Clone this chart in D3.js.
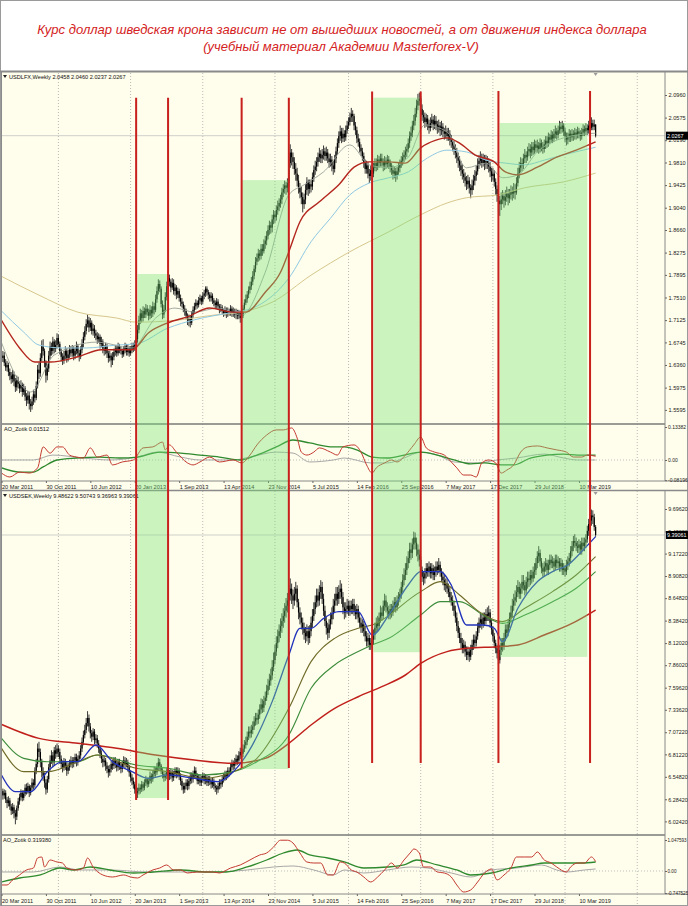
<!DOCTYPE html>
<html><head><meta charset="utf-8">
<script src="https://cdn.jsdelivr.net/npm/d3@7"></script>
<style>body{margin:0;background:#fff}svg{display:block}text{font-family:"Liberation Sans",Arial,sans-serif}</style>
</head><body><svg id="c" width="688" height="906"></svg>
<script>
// ---------------- DATA ----------------
const titleLines = ["Курс доллар шведская крона зависит не от вышедших новостей, а от движения индекса доллара","(учебный материал Академии Masterforex-V)"];
const lfxName = "USDLFX,Weekly", sekName = "USDSEK,Weekly", oscName = "AO_Zotik";
// weekly bars, week 0 = 20 Mar 2011
const lfxFirstOpen = 1.642, sekFirstOpen = 6.40;
const lfxClose = [
1.648,1.652,1.640,1.632,1.636,1.624,1.618,1.612,1.620,1.608,
1.598,1.610,1.604,1.596,1.602,1.590,1.596,1.582,1.576,1.584,
1.570,1.566,1.574,1.586,1.580,1.600,1.628,1.622,1.648,1.668,
1.660,1.640,1.618,1.630,1.652,1.668,1.660,1.676,1.664,1.670,
1.682,1.672,1.660,1.650,1.644,1.652,1.660,1.648,1.654,1.662,
1.656,1.664,1.652,1.660,1.668,1.656,1.650,1.662,1.672,1.684,
1.694,1.706,1.712,1.700,1.708,1.694,1.698,1.690,1.686,1.680,
1.684,1.672,1.676,1.664,1.660,1.668,1.656,1.648,1.652,1.644,
1.650,1.658,1.664,1.656,1.668,1.662,1.660,1.654,1.662,1.668,
1.658,1.664,1.656,1.662,1.668,1.664,1.672,1.680,1.696,1.712,
1.724,1.716,1.728,1.722,1.732,1.726,1.720,1.730,1.724,1.736,
1.730,1.748,1.762,1.774,1.766,1.740,1.722,1.730,1.752,1.770,
1.784,1.778,1.768,1.776,1.762,1.768,1.756,1.762,1.750,1.744,
1.740,1.732,1.728,1.720,1.712,1.716,1.708,1.722,1.730,1.736,
1.742,1.738,1.746,1.750,1.744,1.754,1.758,1.766,1.760,1.756,
1.750,1.754,1.746,1.742,1.738,1.744,1.736,1.730,1.734,1.728,
1.724,1.730,1.722,1.728,1.726,1.732,1.724,1.728,1.722,1.726,
1.720,1.724,1.716,1.720,1.732,1.742,1.748,1.756,1.764,1.770,
1.778,1.788,1.800,1.812,1.818,1.826,1.822,1.834,1.830,1.842,
1.848,1.856,1.866,1.874,1.870,1.884,1.892,1.888,1.900,1.906,
1.912,1.918,1.930,1.936,1.942,1.938,1.946,1.980,1.998,1.990,
1.982,1.970,1.962,1.950,1.938,1.930,1.922,1.910,1.918,1.934,
1.948,1.936,1.944,1.940,1.956,1.968,1.974,1.982,1.990,1.996,
1.988,1.994,2.000,1.992,1.998,1.988,1.982,1.986,1.976,1.970,
1.988,2.000,2.014,2.026,2.034,2.022,2.030,2.024,2.036,2.044,
2.050,2.058,2.064,2.060,2.044,2.036,2.022,2.016,2.006,2.000,
1.992,1.980,1.970,1.976,1.962,1.958,1.968,1.962,1.972,1.980,
1.974,1.986,1.980,1.988,1.982,1.976,1.984,1.978,1.986,1.980,
1.974,1.968,1.962,1.966,1.958,1.966,1.972,1.978,1.984,1.990,
1.994,2.000,2.004,2.014,2.026,2.032,2.044,2.052,2.064,2.078,
2.086,2.090,2.072,2.062,2.058,2.050,2.056,2.046,2.040,2.048,
2.054,2.046,2.052,2.046,2.040,2.044,2.036,2.042,2.034,2.030,
2.034,2.026,2.030,2.020,2.016,2.010,2.004,1.998,1.990,1.984,
1.976,1.968,1.962,1.956,1.950,1.944,1.950,1.938,1.934,1.942,
1.950,1.958,1.966,1.978,1.984,1.990,1.980,1.986,1.978,1.984,
1.980,1.974,1.966,1.958,1.962,1.948,1.936,1.924,1.916,1.910,
1.918,1.924,1.916,1.922,1.928,1.920,1.926,1.932,1.928,1.934,
1.930,1.946,1.962,1.972,1.980,1.976,1.988,1.994,1.990,2.000,
2.004,1.998,2.008,2.002,2.012,2.006,2.010,2.004,2.014,2.008,
2.004,2.012,2.018,2.014,2.024,2.020,2.028,2.022,2.030,2.034,
2.028,2.036,2.042,2.038,2.044,2.034,2.026,2.020,2.024,2.030,
2.024,2.030,2.026,2.032,2.028,2.034,2.030,2.026,2.032,2.038,
2.034,2.040,2.036,2.044,2.040,2.048,2.042,2.0458,2.0267];
const lfxHigh = [
1.656,1.660,1.658,1.646,1.643,1.640,1.630,1.624,1.628,1.625,
1.614,1.618,1.616,1.608,1.610,1.606,1.604,1.600,1.588,1.592,
1.590,1.578,1.582,1.594,1.592,1.608,1.636,1.640,1.656,1.678,
1.680,1.664,1.644,1.638,1.660,1.676,1.674,1.684,1.680,1.678,
1.690,1.688,1.676,1.664,1.656,1.660,1.668,1.664,1.662,1.670,
1.668,1.670,1.668,1.666,1.676,1.672,1.662,1.668,1.680,1.692,
1.702,1.714,1.722,1.718,1.716,1.712,1.706,1.704,1.696,1.692,
1.690,1.688,1.684,1.680,1.670,1.674,1.672,1.660,1.660,1.656,
1.658,1.664,1.670,1.668,1.674,1.672,1.668,1.664,1.668,1.674,
1.672,1.670,1.668,1.668,1.674,1.674,1.678,1.686,1.704,1.720,
1.732,1.730,1.736,1.734,1.740,1.738,1.732,1.738,1.736,1.744,
1.742,1.756,1.770,1.782,1.780,1.770,1.746,1.738,1.760,1.778,
1.796,1.790,1.782,1.784,1.782,1.774,1.772,1.768,1.766,1.756,
1.750,1.744,1.738,1.732,1.724,1.722,1.720,1.728,1.736,1.742,
1.748,1.746,1.752,1.756,1.754,1.760,1.764,1.770,1.770,1.764,
1.760,1.760,1.758,1.750,1.746,1.750,1.748,1.740,1.740,1.738,
1.732,1.736,1.734,1.734,1.732,1.738,1.736,1.734,1.732,1.732,
1.730,1.730,1.728,1.726,1.738,1.748,1.756,1.762,1.770,1.778,
1.786,1.796,1.806,1.820,1.826,1.834,1.832,1.842,1.842,1.850,
1.856,1.864,1.874,1.882,1.880,1.892,1.900,1.898,1.908,1.916,
1.920,1.926,1.938,1.944,1.950,1.948,1.954,1.990,2.012,2.004,
1.998,1.990,1.980,1.972,1.960,1.946,1.940,1.930,1.928,1.944,
1.956,1.952,1.952,1.952,1.964,1.976,1.984,1.990,1.998,2.006,
2.002,2.004,2.010,2.006,2.008,2.004,1.996,1.996,1.992,1.984,
1.994,2.008,2.022,2.034,2.044,2.040,2.040,2.036,2.044,2.052,
2.058,2.066,2.074,2.070,2.064,2.050,2.042,2.030,2.022,2.012,
2.006,1.998,1.986,1.984,1.982,1.970,1.976,1.974,1.980,1.988,
1.988,1.994,1.992,1.996,1.996,1.988,1.992,1.990,1.994,1.992,
1.986,1.980,1.976,1.974,1.972,1.974,1.980,1.986,1.992,1.998,
2.002,2.008,2.012,2.022,2.034,2.042,2.052,2.062,2.074,2.088,
2.098,2.100,2.094,2.080,2.070,2.066,2.064,2.062,2.054,2.058,
2.064,2.060,2.062,2.060,2.052,2.054,2.050,2.052,2.048,2.040,
2.044,2.040,2.040,2.036,2.028,2.022,2.018,2.012,2.006,1.998,
1.992,1.984,1.978,1.970,1.964,1.958,1.960,1.956,1.944,1.952,
1.960,1.968,1.976,1.988,1.994,2.000,1.996,1.996,1.994,1.994,
1.992,1.988,1.982,1.972,1.972,1.968,1.954,1.942,1.930,1.924,
1.930,1.934,1.930,1.934,1.940,1.936,1.936,1.942,1.940,1.946,
1.944,1.956,1.972,1.982,1.990,1.988,1.996,2.004,2.000,2.008,
2.014,2.012,2.016,2.016,2.020,2.018,2.020,2.016,2.022,2.020,
2.016,2.020,2.026,2.026,2.032,2.030,2.036,2.034,2.038,2.044,
2.040,2.044,2.052,2.050,2.052,2.048,2.040,2.032,2.032,2.038,
2.036,2.038,2.036,2.040,2.038,2.042,2.040,2.036,2.040,2.046,
2.044,2.048,2.046,2.052,2.050,2.058,2.054,2.054,2.0460];
const lfxLow = [
1.636,1.641,1.634,1.626,1.625,1.617,1.610,1.604,1.606,1.600,
1.590,1.592,1.596,1.588,1.590,1.582,1.585,1.575,1.566,1.570,
1.560,1.556,1.560,1.568,1.572,1.576,1.596,1.612,1.616,1.642,
1.652,1.632,1.606,1.610,1.624,1.646,1.652,1.654,1.656,1.658,
1.664,1.666,1.654,1.642,1.636,1.638,1.646,1.640,1.642,1.648,
1.650,1.650,1.644,1.646,1.654,1.650,1.642,1.646,1.656,1.666,
1.678,1.688,1.700,1.692,1.694,1.688,1.686,1.682,1.678,1.672,
1.674,1.664,1.666,1.656,1.652,1.654,1.648,1.640,1.642,1.632,
1.636,1.644,1.652,1.650,1.652,1.656,1.654,1.648,1.650,1.656,
1.652,1.652,1.650,1.652,1.656,1.658,1.660,1.666,1.674,1.690,
1.706,1.708,1.710,1.716,1.716,1.720,1.712,1.714,1.716,1.718,
1.722,1.726,1.742,1.756,1.760,1.734,1.714,1.716,1.726,1.746,
1.764,1.770,1.760,1.764,1.756,1.754,1.748,1.750,1.744,1.736,
1.734,1.726,1.720,1.714,1.704,1.702,1.700,1.704,1.716,1.724,
1.730,1.732,1.734,1.740,1.738,1.740,1.748,1.752,1.754,1.748,
1.744,1.744,1.740,1.736,1.732,1.732,1.730,1.724,1.726,1.722,
1.718,1.720,1.716,1.718,1.720,1.720,1.718,1.718,1.716,1.714,
1.714,1.714,1.708,1.710,1.716,1.726,1.738,1.742,1.750,1.758,
1.764,1.772,1.782,1.794,1.806,1.812,1.814,1.816,1.822,1.826,
1.834,1.840,1.850,1.858,1.860,1.862,1.876,1.878,1.882,1.892,
1.898,1.904,1.910,1.922,1.928,1.926,1.930,1.940,1.972,1.976,
1.970,1.960,1.950,1.940,1.928,1.920,1.910,1.896,1.902,1.910,
1.926,1.924,1.928,1.930,1.934,1.948,1.960,1.966,1.974,1.982,
1.980,1.980,1.986,1.984,1.984,1.980,1.972,1.974,1.966,1.960,
1.964,1.980,1.994,2.006,2.018,2.014,2.016,2.016,2.018,2.030,
2.038,2.044,2.050,2.050,2.036,2.028,2.014,2.008,1.998,1.992,
1.984,1.972,1.962,1.962,1.954,1.946,1.950,1.932,1.956,1.966,
1.966,1.968,1.972,1.974,1.974,1.966,1.968,1.970,1.972,1.970,
1.964,1.960,1.952,1.954,1.948,1.952,1.960,1.964,1.972,1.976,
1.982,1.986,1.990,1.998,2.006,2.018,2.024,2.036,2.044,2.058,
2.070,2.078,2.060,2.052,2.048,2.040,2.042,2.036,2.030,2.034,
2.040,2.036,2.038,2.036,2.030,2.032,2.026,2.028,2.024,2.020,
2.022,2.018,2.018,2.010,2.006,2.000,1.994,1.988,1.980,1.972,
1.966,1.958,1.952,1.946,1.940,1.934,1.936,1.928,1.920,1.926,
1.934,1.942,1.950,1.960,1.970,1.976,1.972,1.974,1.968,1.970,
1.970,1.964,1.956,1.948,1.950,1.940,1.926,1.914,1.896,1.890,
1.900,1.910,1.904,1.908,1.914,1.908,1.912,1.918,1.916,1.920,
1.918,1.926,1.940,1.954,1.964,1.966,1.970,1.980,1.980,1.984,
1.992,1.988,1.992,1.994,1.996,1.998,1.998,1.996,1.998,2.000,
1.996,1.998,2.004,2.006,2.008,2.012,2.014,2.014,2.016,2.022,
2.020,2.022,2.030,2.030,2.032,2.026,2.016,2.010,2.012,2.016,
2.016,2.018,2.018,2.020,2.020,2.022,2.022,2.018,2.020,2.026,
2.026,2.028,2.028,2.030,2.032,2.036,2.036,2.036,2.0237];
const sekClose = [
6.38,6.33,6.36,6.28,6.24,6.27,6.20,6.15,6.19,6.12,
6.08,6.18,6.26,6.31,6.36,6.30,6.35,6.42,6.38,6.44,
6.36,6.42,6.48,6.45,6.62,6.70,6.88,6.84,6.72,6.60,
6.56,6.48,6.40,6.52,6.66,6.74,6.80,6.72,6.86,6.82,
6.88,6.84,6.76,6.70,6.66,6.72,6.68,6.62,6.66,6.70,
6.74,6.70,6.74,6.78,6.72,6.76,6.80,6.88,6.96,7.04,
7.10,7.18,7.24,7.14,7.06,7.02,7.08,6.98,7.00,6.94,
6.88,6.82,6.76,6.72,6.74,6.68,6.64,6.60,6.64,6.70,
6.68,6.74,6.70,6.66,6.72,6.68,6.64,6.70,6.74,6.70,
6.72,6.66,6.60,6.54,6.50,6.46,6.40,6.36,6.38,6.42,
6.40,6.46,6.42,6.48,6.52,6.46,6.50,6.56,6.52,6.58,
6.62,6.60,6.66,6.72,6.68,6.62,6.58,6.54,6.56,6.62,
6.60,6.56,6.60,6.54,6.58,6.62,6.58,6.62,6.56,6.50,
6.44,6.40,6.44,6.48,6.44,6.50,6.56,6.52,6.58,6.62,
6.56,6.50,6.54,6.48,6.52,6.56,6.50,6.54,6.48,6.52,
6.50,6.46,6.50,6.44,6.42,6.40,6.44,6.48,6.46,6.52,
6.54,6.58,6.56,6.62,6.60,6.66,6.70,6.68,6.72,6.76,
6.74,6.80,6.84,6.82,6.88,6.92,6.96,7.02,7.08,7.06,
7.10,7.14,7.20,7.24,7.22,7.28,7.34,7.40,7.36,7.44,
7.48,7.56,7.62,7.68,7.74,7.84,7.92,8.02,8.12,8.20,
8.26,8.32,8.38,8.44,8.50,8.56,8.62,8.70,8.76,8.68,
8.62,8.70,8.76,8.60,8.48,8.42,8.36,8.30,8.24,8.20,
8.26,8.18,8.26,8.36,8.44,8.52,8.60,8.68,8.62,8.72,
8.78,8.64,8.50,8.38,8.30,8.24,8.34,8.40,8.46,8.56,
8.62,8.70,8.64,8.72,8.76,8.66,8.54,8.48,8.52,8.56,
8.50,8.56,8.52,8.58,8.50,8.46,8.52,8.42,8.36,8.30,
8.34,8.26,8.20,8.14,8.18,8.10,8.12,8.16,8.22,8.30,
8.36,8.32,8.42,8.48,8.44,8.56,8.62,8.54,8.50,8.46,
8.52,8.48,8.56,8.60,8.54,8.62,8.66,8.70,8.78,8.86,
8.92,8.98,9.06,9.12,9.22,9.18,9.28,9.36,9.30,9.22,
9.16,9.10,8.98,8.90,8.88,8.94,9.00,8.96,9.02,8.94,
9.00,8.92,8.96,9.02,8.98,9.04,8.96,8.90,8.86,8.80,
8.82,8.76,8.72,8.66,8.62,8.56,8.50,8.42,8.32,8.24,
8.18,8.12,8.06,8.10,8.02,7.98,8.02,7.96,8.04,8.10,
8.16,8.12,8.20,8.30,8.36,8.40,8.34,8.42,8.38,8.46,
8.44,8.48,8.36,8.28,8.20,8.12,8.06,8.00,7.92,8.04,
8.12,8.08,8.18,8.28,8.24,8.34,8.42,8.48,8.56,8.62,
8.66,8.72,8.78,8.70,8.76,8.84,8.80,8.74,8.84,8.88,
8.86,8.92,8.88,8.96,8.98,9.06,9.14,9.18,9.08,9.00,
8.96,9.02,9.06,8.98,9.04,9.10,9.06,9.08,9.02,9.10,
9.06,9.08,9.02,9.06,8.98,9.00,8.96,9.04,9.08,9.12,
9.20,9.26,9.32,9.30,9.26,9.24,9.28,9.22,9.30,9.26,
9.30,9.34,9.44,9.52,9.56,9.62,9.60,9.48622,9.39061];
const sekHigh = [
6.44,6.41,6.40,6.39,6.31,6.32,6.30,6.23,6.24,6.22,
6.16,6.21,6.30,6.35,6.40,6.39,6.39,6.46,6.47,6.48,
6.46,6.45,6.53,6.52,6.66,6.76,6.94,6.96,6.88,6.76,
6.66,6.60,6.52,6.56,6.70,6.80,6.86,6.84,6.90,6.92,
6.94,6.92,6.88,6.80,6.74,6.77,6.76,6.72,6.71,6.75,
6.79,6.78,6.78,6.82,6.82,6.80,6.85,6.92,7.01,7.09,
7.16,7.24,7.32,7.28,7.18,7.10,7.12,7.11,7.05,7.04,
6.98,6.92,6.86,6.80,6.79,6.77,6.72,6.68,6.69,6.74,
6.75,6.78,6.78,6.74,6.76,6.76,6.72,6.74,6.79,6.78,
6.77,6.75,6.69,6.63,6.58,6.54,6.49,6.43,6.42,6.47,
6.46,6.50,6.49,6.52,6.56,6.54,6.54,6.61,6.59,6.62,
6.67,6.66,6.71,6.77,6.76,6.70,6.65,6.61,6.60,6.66,
6.67,6.63,6.64,6.63,6.62,6.66,6.66,6.66,6.65,6.59,
6.53,6.48,6.48,6.52,6.52,6.54,6.60,6.60,6.62,6.67,
6.66,6.59,6.58,6.57,6.56,6.60,6.59,6.58,6.57,6.56,
6.56,6.53,6.54,6.53,6.47,6.45,6.48,6.52,6.52,6.56,
6.59,6.62,6.62,6.66,6.66,6.70,6.75,6.74,6.77,6.81,
6.80,6.85,6.89,6.88,6.93,6.98,7.02,7.08,7.14,7.14,
7.16,7.20,7.26,7.30,7.30,7.34,7.40,7.47,7.46,7.50,
7.55,7.63,7.70,7.76,7.82,7.92,8.01,8.10,8.20,8.28,
8.34,8.41,8.47,8.53,8.59,8.65,8.71,8.80,8.88,8.82,
8.75,8.78,8.84,8.80,8.64,8.54,8.48,8.42,8.36,8.31,
8.34,8.32,8.33,8.43,8.52,8.60,8.68,8.76,8.76,8.80,
8.86,8.84,8.70,8.56,8.44,8.36,8.40,8.48,8.54,8.64,
8.70,8.78,8.78,8.80,8.86,8.82,8.72,8.60,8.60,8.64,
8.62,8.62,8.62,8.64,8.64,8.56,8.58,8.56,8.48,8.42,
8.40,8.38,8.32,8.26,8.24,8.22,8.18,8.22,8.28,8.36,
8.42,8.44,8.48,8.56,8.54,8.62,8.70,8.68,8.60,8.56,
8.58,8.58,8.62,8.66,8.66,8.68,8.72,8.76,8.84,8.93,
9.00,9.06,9.14,9.20,9.30,9.30,9.35,9.43,9.42,9.36,
9.28,9.22,9.14,9.02,8.96,9.00,9.06,9.06,9.08,9.06,
9.06,9.04,9.02,9.08,9.08,9.12,9.08,9.00,8.96,8.92,
8.88,8.88,8.82,8.78,8.72,8.68,8.62,8.56,8.48,8.38,
8.30,8.24,8.18,8.16,8.14,8.08,8.08,8.06,8.10,8.16,
8.22,8.22,8.26,8.36,8.42,8.48,8.46,8.48,8.48,8.52,
8.54,8.56,8.52,8.40,8.32,8.24,8.16,8.10,8.04,8.10,
8.18,8.18,8.24,8.34,8.34,8.40,8.48,8.56,8.64,8.70,
8.74,8.80,8.86,8.84,8.82,8.92,8.92,8.86,8.90,8.96,
8.96,8.98,8.98,9.02,9.06,9.12,9.20,9.26,9.22,9.12,
9.06,9.08,9.12,9.10,9.10,9.16,9.16,9.14,9.12,9.16,
9.16,9.14,9.12,9.12,9.10,9.06,9.04,9.10,9.14,9.18,
9.26,9.32,9.38,9.40,9.36,9.32,9.34,9.32,9.36,9.36,
9.36,9.40,9.50,9.58,9.64,9.69,9.68,9.64,9.50743];
const sekLow = [
6.33,6.28,6.29,6.24,6.18,6.20,6.16,6.10,6.11,6.06,
5.99,6.04,6.15,6.22,6.27,6.26,6.27,6.32,6.34,6.35,
6.31,6.33,6.39,6.40,6.42,6.58,6.66,6.78,6.66,6.54,
6.50,6.42,6.34,6.36,6.48,6.62,6.70,6.66,6.68,6.76,
6.78,6.78,6.70,6.64,6.60,6.62,6.63,6.56,6.58,6.62,
6.66,6.65,6.66,6.70,6.67,6.68,6.72,6.76,6.84,6.92,
7.00,7.06,7.14,7.08,7.00,6.96,6.98,6.93,6.94,6.89,
6.83,6.77,6.71,6.66,6.67,6.62,6.59,6.54,6.56,6.60,
6.63,6.64,6.65,6.61,6.62,6.63,6.59,6.60,6.66,6.65,
6.66,6.61,6.55,6.49,6.45,6.41,6.35,6.29,6.30,6.34,
6.35,6.37,6.38,6.39,6.44,6.42,6.43,6.47,6.47,6.49,
6.55,6.55,6.57,6.62,6.63,6.58,6.53,6.49,6.50,6.52,
6.55,6.51,6.52,6.49,6.50,6.54,6.53,6.54,6.51,6.45,
6.39,6.35,6.36,6.40,6.39,6.40,6.46,6.47,6.48,6.54,
6.52,6.46,6.46,6.44,6.44,6.48,6.46,6.46,6.44,6.44,
6.45,6.41,6.42,6.40,6.37,6.34,6.36,6.40,6.41,6.43,
6.48,6.50,6.51,6.53,6.55,6.57,6.62,6.63,6.64,6.68,
6.69,6.70,6.76,6.77,6.78,6.84,6.88,6.92,6.98,7.00,
7.01,7.05,7.10,7.15,7.16,7.17,7.23,7.29,7.30,7.31,
7.39,7.44,7.51,7.57,7.62,7.69,7.79,7.87,7.97,8.06,
8.13,8.18,8.24,8.30,8.36,8.42,8.48,8.55,8.62,8.58,
8.52,8.56,8.62,8.54,8.40,8.34,8.28,8.22,8.16,8.12,
8.14,8.10,8.12,8.20,8.30,8.38,8.46,8.54,8.55,8.56,
8.64,8.58,8.44,8.32,8.22,8.16,8.18,8.28,8.34,8.40,
8.48,8.56,8.56,8.58,8.64,8.58,8.46,8.40,8.42,8.46,
8.44,8.44,8.46,8.46,8.44,8.40,8.40,8.36,8.30,8.24,
8.24,8.20,8.14,8.08,8.08,8.04,8.04,8.06,8.10,8.16,
8.24,8.26,8.28,8.36,8.38,8.40,8.50,8.48,8.44,8.40,
8.40,8.42,8.44,8.50,8.48,8.50,8.56,8.60,8.64,8.72,
8.80,8.86,8.92,9.00,9.06,9.10,9.12,9.22,9.22,9.14,
9.08,9.02,8.92,8.84,8.80,8.82,8.88,8.90,8.90,8.88,
8.88,8.86,8.86,8.90,8.92,8.94,8.90,8.84,8.80,8.74,
8.72,8.70,8.66,8.60,8.56,8.50,8.44,8.36,8.26,8.18,
8.12,8.06,8.00,8.00,7.96,7.92,7.92,7.90,7.92,7.98,
8.04,8.06,8.08,8.16,8.24,8.30,8.28,8.30,8.32,8.34,
8.38,8.38,8.30,8.22,8.14,8.06,8.00,7.94,7.86,7.88,
7.98,8.02,8.04,8.14,8.18,8.20,8.30,8.36,8.42,8.50,
8.56,8.60,8.66,8.64,8.64,8.70,8.74,8.68,8.70,8.76,
8.78,8.80,8.82,8.84,8.88,8.92,9.00,9.06,9.02,8.94,
8.90,8.90,8.96,8.92,8.92,8.98,9.00,9.00,8.96,8.98,
9.00,9.00,8.96,8.96,8.92,8.92,8.90,8.92,8.98,9.02,
9.06,9.14,9.20,9.24,9.20,9.18,9.18,9.16,9.16,9.20,
9.20,9.24,9.30,9.38,9.46,9.50,9.52,9.44,9.36963];

// moving averages: [week, value]
const lfxMaRed = [[0,1.712],[13,1.665],[24,1.641],[35,1.641],[55,1.650],[72,1.662],[94,1.662],[106,1.691],[120,1.708],[134,1.718],[150,1.733],[167,1.726],[176,1.726],[190,1.760],[201,1.794],[207,1.829],[215,1.880],[229,1.914],[243,1.943],[254,1.973],[265,1.982],[279,1.982],[291,1.980],[302,2.006],[313,2.019],[321,2.023],[330,2.014],[341,1.994],[355,1.982],[363,1.965],[372,1.960],[386,1.973],[400,1.990],[414,2.002],[428,2.016]];
const lfxMaBlue = [[0,1.728],[16,1.692],[27,1.670],[44,1.665],[61,1.665],[83,1.670],[97,1.672],[120,1.699],[139,1.713],[167,1.726],[181,1.733],[207,1.784],[223,1.846],[237,1.886],[251,1.926],[265,1.946],[279,1.955],[293,1.965],[307,1.989],[321,2.002],[335,1.999],[349,1.985],[363,1.980],[377,1.977],[391,1.985],[405,1.994],[428,2.007]];
const lfxMaKhaki = [[0,1.787],[27,1.755],[55,1.726],[83,1.716],[97,1.709],[125,1.712],[153,1.721],[173,1.726],[195,1.743],[223,1.789],[251,1.829],[279,1.863],[302,1.892],[321,1.912],[335,1.921],[358,1.926],[377,1.938],[405,1.948],[428,1.963]];
const lfxMaGray = [[0,1.674],[21,1.590],[38,1.653],[69,1.675],[94,1.665],[111,1.716],[125,1.733],[139,1.726],[156,1.733],[173,1.721],[190,1.794],[207,1.926],[218,1.943],[232,1.965],[251,2.011],[265,1.977],[279,1.972],[293,1.990],[305,2.045],[321,2.033],[335,1.972],[349,1.980],[361,1.955],[372,1.960],[386,1.999],[405,2.023],[428,2.031]];
const sekMaBlue = [[0,6.57],[10,6.374],[21,6.374],[33,6.609],[44,6.726],[55,6.726],[68,6.922],[80,6.726],[94,6.609],[106,6.53],[120,6.57],[139,6.53],[156,6.491],[167,6.609],[178,6.844],[195,7.432],[207,7.98],[215,8.294],[223,8.294],[232,8.411],[243,8.49],[257,8.49],[267,8.215],[279,8.45],[293,8.803],[302,8.96],[316,8.96],[324,8.803],[335,8.333],[347,8.333],[355,8.294],[361,8.137],[372,8.529],[386,8.842],[397,8.96],[408,9.038],[419,9.214],[428,9.371]];
const sekMaOlive = [[0,6.883],[16,6.609],[33,6.609],[55,6.726],[69,6.805],[97,6.648],[120,6.609],[145,6.53],[167,6.609],[184,6.765],[207,7.353],[223,7.902],[240,8.176],[257,8.294],[267,8.333],[302,8.725],[316,8.842],[330,8.686],[344,8.49],[361,8.372],[377,8.529],[397,8.725],[414,8.92],[428,9.136]];
const sekMaGreen = [[0,7.0],[16,6.765],[33,6.726],[55,6.726],[69,6.805],[97,6.687],[120,6.648],[145,6.57],[167,6.609],[184,6.726],[207,7.04],[223,7.589],[240,7.863],[257,8.02],[267,8.098],[279,8.176],[302,8.45],[316,8.607],[330,8.607],[347,8.45],[361,8.352],[377,8.45],[397,8.607],[414,8.764],[428,8.96]];
const sekMaRed = [[0,7.165],[27,7.0],[55,6.942],[83,6.883],[111,6.805],[139,6.746],[167,6.707],[190,6.765],[207,6.942],[223,7.157],[240,7.353],[257,7.49],[274,7.608],[291,7.745],[302,7.882],[321,8.02],[335,8.059],[358,8.078],[372,8.098],[391,8.215],[411,8.352],[428,8.509]];

// oscillator lines: [week, value]
const lfxOscRed = [[0,-0.053],[6,-0.069],[13,-0.049],[20,-0.053],[26,-0.032],[30,0.053],[35,0.028],[40,0.053],[44,0.053],[49,0.020],[54,0.012],[59,0.008],[64,0.049],[69,0.012],[76,0.020],[80,-0.020],[87,-0.008],[95,0],[102,0.049],[109,0.053],[116,0.073],[118,0.041],[121,0.061],[126,0.032],[134,-0.012],[138,-0.020],[143,-0.008],[150,0.012],[157,-0.008],[167,0],[173,-0.012],[179,0.020],[184,0.061],[191,0.101],[198,0.122],[203,0.122],[209,0.130],[213,0.089],[216,0.032],[220,0.020],[225,0.032],[229,0.049],[237,0.032],[242,0.020],[246,0.053],[254,0.061],[259,0.032],[263,-0.020],[267,-0.053],[270,-0.032],[276,-0.012],[281,0],[285,-0.008],[291,0.020],[297,0.061],[302,0.093],[306,0.049],[312,0.032],[319,0.020],[324,-0.008],[328,-0.032],[333,-0.061],[338,-0.061],[342,-0.069],[346,-0.012],[351,0],[356,-0.012],[360,-0.053],[364,-0.041],[369,-0.020],[374,0.032],[379,0.053],[386,0.057],[393,0.049],[400,0.041],[407,0.032],[412,0.012],[418,0.012],[422,0.020],[428,0.01512]];
const lfxOscGreen = [[0,-0.032],[13,-0.049],[23,-0.049],[30,-0.028],[40,0],[54,0.008],[71,0.012],[85,0.008],[98,0.012],[114,0.032],[129,0.028],[143,0.020],[157,0.012],[172,0],[184,0.020],[198,0.053],[210,0.081],[222,0.069],[239,0.053],[247,0.053],[256,0.041],[267,0.012],[278,0.008],[290,0.020],[302,0.032],[314,0.020],[326,0],[338,-0.016],[348,-0.012],[360,-0.020],[369,-0.020],[381,0.008],[393,0.020],[405,0.024],[415,0.020],[428,0.020]];
const lfxOscGray = [[0,0],[23,0],[37,0.020],[59,0.008],[78,0],[98,0.012],[112,0.032],[129,0.012],[143,0],[167,0],[179,0.012],[198,0.032],[210,0.028],[222,-0.008],[239,0],[247,0.008],[266,-0.012],[278,-0.012],[290,0.008],[302,0.032],[314,0.020],[326,-0.008],[343,-0.012],[357,0],[371,0.008],[391,0.024],[405,0.008],[415,0],[428,0]];
const sekOscRed = [[0,-0.473],[4,-0.473],[8,-0.304],[13,-0.135],[18,0.034],[23,0.101],[26,0.439],[29,0.473],[31,0.135],[35,0.372],[40,0.304],[44,0.270],[47,0.101],[54,0.034],[59,0.101],[62,0.439],[66,0.135],[73,-0.135],[80,-0.203],[88,-0.135],[93,-0.203],[98,-0.237],[102,-0.135],[109,0.034],[114,0.101],[119,0.203],[124,0.034],[129,0.034],[134,-0.068],[141,-0.034],[145,-0.034],[152,-0.034],[157,-0.068],[165,0.101],[172,0.203],[179,0.372],[186,0.541],[191,0.608],[196,0.811],[201,1.040],[206,1.040],[210,0.946],[215,0.608],[220,0.304],[225,0.270],[230,0.270],[235,-0.135],[239,-0.135],[244,0.304],[247,0.270],[252,0.034],[256,-0.034],[261,-0.203],[266,-0.372],[271,-0.203],[276,0.034],[281,0.270],[285,0.101],[290,0.372],[295,0.642],[297,0.744],[301,0.608],[304,0.135],[309,0.135],[314,-0.034],[319,-0.068],[324,-0.203],[328,-0.473],[333,-0.710],[338,-0.642],[343,-0.372],[348,-0.068],[353,0.068],[357,-0.304],[362,-0.135],[367,0.101],[371,0.473],[377,0.473],[382,0.473],[386,0.642],[391,0.372],[396,0.270],[400,0.135],[407,-0.034],[410,0.135],[415,0.270],[420,0.270],[425,0.473],[428,0.31938]];
const sekOscGreen = [[0,-0.372],[13,-0.237],[28,-0.135],[42,0.101],[52,0.034],[64,0.135],[78,0.034],[95,-0.068],[109,-0.034],[129,0.034],[148,-0.034],[162,-0.034],[177,0.135],[191,0.372],[203,0.608],[213,0.710],[222,0.541],[235,0.439],[247,0.304],[261,0.101],[278,0.135],[290,0.203],[299,0.372],[314,0.203],[328,0.034],[338,-0.135],[353,-0.068],[367,0.101],[382,0.203],[391,0.270],[405,0.270],[418,0.270],[428,0.304]];
const sekOscGray = [[0,-0.034],[23,-0.034],[42,0.135],[57,0.034],[78,0.034],[105,-0.034],[129,-0.034],[152,-0.034],[177,0.034],[196,0.135],[210,0.169],[225,0.034],[239,-0.135],[247,0.034],[261,-0.068],[278,0.034],[295,0.135],[307,0.101],[324,-0.068],[338,-0.203],[353,0.034],[371,0.101],[389,0.203],[400,0.034],[407,-0.034],[420,0.034],[428,0.068]];

// axes
const lfxTicks = ["2.0960","2.0575","2.0190","1.9810","1.9425","1.9040","1.8660","1.8275","1.7895","1.7510","1.7125","1.6745","1.6360","1.5975","1.5595"];
const sekTicks = ["9.69620","9.43220","9.17220","8.90820","8.64820","8.38420","8.12020","7.86020","7.59620","7.33620","7.07220","6.81220","6.54820","6.28420","6.02420"];
const lfxOscTicks = ["0.13382","0.00","-0.08196"];
const sekOscTicks = ["1.047593","0.00","-0.747525"];
const dateLabels = ["20 Mar 2011","30 Oct 2011","10 Jun 2012","20 Jan 2013","1 Sep 2013","13 Apr 2014","23 Nov 2014","5 Jul 2015","14 Feb 2016","25 Sep 2016","7 May 2017","17 Dec 2017","29 Jul 2018","10 Mar 2019"];
const dateWeeks = [0,32,64,96,128,160,192,224,256,288,320,352,384,416];
const gridWeeks = [41,93,145,197,250,302,354,406,458];

// annotations
const redLineWeeks = [97,120,173,207,267,302,358,424];
const redLineTopLfx = [2.0914,2.0914,2.0914,2.0914,2.102,2.102,2.103,2.103];
const redLineBottomSek = [6.276,6.276,6.652,6.652,6.71,6.71,6.71,6.71];
const boxStartWeeks = [98,173,268,359];
const boxEndWeeks = [120,207,302,422];
const boxTopLfx = [1.791,1.951,2.0914,2.0483];
const boxBottomSek = [6.299,6.640,8.013,7.958];

// ---------------- DRAW ----------------
const svg = d3.select('#c');
const CREAM = '#fffdeb';
const PL = 2, PR = 665;
const P = {tp:[73,424], to:[424,481], bp:[491,835], bo:[835,894]};

const x = d3.scaleLinear().domain([0,428]).range([1.5,595.6]);
const yTop = d3.scaleLinear().domain([1.5595,2.096]).range([409.9,95]);
const yTopOsc = d3.scaleLinear().domain([-0.08196,0.13382]).range([480.2,427]);
const yBot = d3.scaleLinear().domain([6.0242,9.6962]).range([821.4,509]);
const yBotOsc = d3.scaleLinear().domain([-0.747525,1.047593]).range([893.1,840]);

svg.append('rect').attr('width',688).attr('height',906).attr('fill','#fff');
svg.append('rect').attr('x',0.5).attr('y',0.5).attr('width',687).attr('height',905).attr('fill','none').attr('stroke','#9a9a9a');

// title: font size fitted to the reference line widths
const tl = [[342,34,610],[341,50.5,276]];
titleLines.forEach((t,i)=>{
  const el = svg.append('text').attr('x',tl[i][0]).attr('y',tl[i][1]).attr('text-anchor','middle')
    .attr('font-size',14).attr('font-style','italic').attr('fill','#d42222').text(t);
  const len = el.node().getComputedTextLength();
  if (len > 0) el.attr('font-size', Math.min(16, 14 * tl[i][2] / len));
});

// chart window
svg.append('rect').attr('x',1).attr('y',72).attr('width',686).attr('height',833).attr('fill',CREAM);
svg.append('line').attr('x1',0).attr('x2',688).attr('y1',71.5).attr('y2',71.5).attr('stroke','#8a8a8a').attr('stroke-width',2);
svg.append('line').attr('x1',1.5).attr('x2',1.5).attr('y1',71).attr('y2',906).attr('stroke','#8a8a8a');

// clip paths
const defs = svg.append('defs');
Object.entries(P).forEach(([k,[a,b]])=>{
  defs.append('clipPath').attr('id','cl'+k).append('rect').attr('x',PL).attr('y',a).attr('width',PR-PL).attr('height',b-a);
});
const gp = k => svg.append('g').attr('clip-path',`url(#cl${k})`);

// grid lines
Object.keys(P).forEach(k=>{
  const [a,b] = P[k];
  gp(k).selectAll('line').data(gridWeeks).join('line')
    .attr('x1',d=>x(d)).attr('x2',d=>x(d)).attr('y1',a).attr('y2',b)
    .attr('stroke','#a8a8a8').attr('stroke-width',0.8).attr('stroke-dasharray','1,2');
});
[[481,491],[894,906]].forEach(([a,b])=>{
  svg.append('g').selectAll('line').data(gridWeeks).join('line')
    .attr('x1',d=>x(d)).attr('x2',d=>x(d)).attr('y1',a).attr('y2',b)
    .attr('stroke','#a8a8a8').attr('stroke-width',0.8).attr('stroke-dasharray','1,2');
});

// current price lines
const lastL = lfxClose[lfxClose.length-1], lastS = sekClose[sekClose.length-1];
gp('tp').append('line').attr('x1',PL).attr('x2',PR).attr('y1',yTop(lastL)).attr('y2',yTop(lastL)).attr('stroke','#c4c4c4').attr('stroke-width',0.8);
gp('bp').append('line').attr('x1',PL).attr('x2',PR).attr('y1',yBot(lastS)).attr('y2',yBot(lastS)).attr('stroke','#c4c4c4').attr('stroke-width',0.8);

// oscillator zero lines
gp('to').append('line').attr('x1',PL).attr('x2',PR).attr('y1',yTopOsc(0)).attr('y2',yTopOsc(0)).attr('stroke','#b0b0b0').attr('stroke-width',0.8).attr('stroke-dasharray','1,2');
gp('bo').append('line').attr('x1',PL).attr('x2',PR).attr('y1',yBotOsc(0)).attr('y2',yBotOsc(0)).attr('stroke','#b0b0b0').attr('stroke-width',0.8).attr('stroke-dasharray','1,2');

// candles
function candles(k, closes, highs, lows, firstOpen, y){
  const n = Math.min(closes.length, highs.length, lows.length);
  const bars = d3.range(n).map(i=>({i, o: i? closes[i-1] : firstOpen, c: closes[i], h: highs[i], l: lows[i]}));
  const g = gp(k);
  g.selectAll('line.w').data(bars).join('line').attr('class','w')
    .attr('x1',d=>x(d.i)).attr('x2',d=>x(d.i)).attr('y1',d=>y(d.h)).attr('y2',d=>y(d.l))
    .attr('stroke','#3a3a3a').attr('stroke-width',1);
  g.selectAll('rect.b').data(bars).join('rect').attr('class','b')
    .attr('x',d=>x(d.i)-0.6).attr('width',1.2)
    .attr('y',d=>y(Math.max(d.o,d.c))).attr('height',d=>Math.max(0.8,Math.abs(y(d.o)-y(d.c))))
    .attr('fill','#000');
}
candles('tp', lfxClose, lfxHigh, lfxLow, lfxFirstOpen, yTop);
candles('bp', sekClose, sekHigh, sekLow, sekFirstOpen, yBot);

function series(k, data, y, color, w){
  gp(k).append('path').datum(data)
    .attr('d', d3.line().x(d=>x(d[0])).y(d=>y(d[1])).curve(d3.curveMonotoneX))
    .attr('fill','none').attr('stroke',color).attr('stroke-width',w);
}
series('tp', lfxMaKhaki, yTop, '#d6c88e', 1);
series('tp', lfxMaBlue, yTop, '#8fc9e3', 1);
series('tp', lfxMaGray, yTop, '#9aa39a', 0.9);
series('tp', lfxMaRed, yTop, '#b3261e', 1.4);
series('bp', sekMaRed, yBot, '#c0201c', 1.5);
series('bp', sekMaGreen, yBot, '#3c8c3c', 1.1);
series('bp', sekMaOlive, yBot, '#6e6a28', 1.1);
series('bp', sekMaBlue, yBot, '#2233bb', 1.3);

series('to', lfxOscGray, yTopOsc, '#a8a8a8', 1);
series('to', lfxOscGreen, yTopOsc, '#2e8a2e', 1.3);
series('to', lfxOscRed, yTopOsc, '#c43a32', 1);
series('bo', sekOscGray, yBotOsc, '#a8a8a8', 1);
series('bo', sekOscGreen, yBotOsc, '#2e8a2e', 1.3);
series('bo', sekOscRed, yBotOsc, '#c43a32', 1);

// separators & axis frame
const sep = (y1,x1,x2,w,c)=>svg.append('line').attr('x1',x1).attr('x2',x2).attr('y1',y1).attr('y2',y1).attr('stroke',c).attr('stroke-width',w);
sep(424,PL,PR,1.6,'#7a7a7a');
sep(481,PL,688,1,'#8a8a8a');
sep(490.5,0,688,1.6,'#8a8a8a');
sep(835,PL,PR,1.6,'#7a7a7a');
sep(894,PL,688,1,'#8a8a8a');
svg.append('line').attr('x1',PR).attr('x2',PR).attr('y1',72).attr('y2',481).attr('stroke','#8a8a8a');
svg.append('line').attr('x1',PR).attr('x2',PR).attr('y1',491).attr('y2',894).attr('stroke','#8a8a8a');

// axes
function styleAxis(g, fs){
  g.select('.domain').remove();
  g.selectAll('.tick line').attr('stroke','#666');
  g.selectAll('.tick text').attr('font-size',fs).attr('fill','#222').attr('font-family','Liberation Sans, Arial, sans-serif');
}
const rightAxis = (y, labels, fs, pad) => svg.append('g').attr('transform',`translate(${PR},0)`)
  .call(d3.axisRight(y).tickValues(labels.map(Number)).tickFormat((d,i)=>labels[i]).tickSize(2).tickPadding(pad))
  .call(g=>styleAxis(g, fs));
rightAxis(yTop, lfxTicks, 5.6, 1.5);
rightAxis(yBot, sekTicks, 5.4, 1.2);
rightAxis(yTopOsc, lfxOscTicks, 5.0, 1);
rightAxis(yBotOsc, sekOscTicks, 4.6, 0.5);
[[481,488.5],[894,902.5]].forEach(([ya,yt])=>{
  const g = svg.append('g').attr('transform',`translate(0,${ya})`)
    .call(d3.axisBottom(x).tickValues(dateWeeks).tickFormat((d,i)=>dateLabels[i]).tickSize(2).tickPadding(1));
  styleAxis(g, 5.6);
  g.selectAll('.tick text').attr('text-anchor','start').attr('dy',null).attr('y',yt-ya);
});

// current price tags
function tag(y, txt){
  svg.append('rect').attr('x',PR+1).attr('y',y-4).attr('width',22).attr('height',8).attr('fill','#000');
  svg.append('text').attr('x',PR+2).attr('y',y+2).attr('font-size',5.4).attr('fill','#fff').text(txt);
}
tag(yTop(lastL), lastL.toFixed(4));
tag(yBot(lastS), lastS.toFixed(5));

// headers
const nL = lfxClose.length-1, nS = sekClose.length-1;
const tri = (cx,cy,c)=>svg.append('path').attr('d',`M${cx-2},${cy-1.5}L${cx+2},${cy-1.5}L${cx},${cy+1.5}Z`).attr('fill',c);
tri(5,76.5,'#222'); tri(5,495.5,'#222');
svg.append('text').attr('x',9).attr('y',78.5).attr('font-size',5.6).attr('fill','#111')
  .text(`${lfxName}  ${lfxClose[nL-1].toFixed(4)} ${lfxHigh[nL].toFixed(4)} ${lfxLow[nL].toFixed(4)} ${lfxClose[nL].toFixed(4)}`);
svg.append('text').attr('x',9).attr('y',497.5).attr('font-size',5.6).attr('fill','#111')
  .text(`${sekName}  ${sekClose[nS-1].toFixed(5)} ${sekHigh[nS].toFixed(5)} ${sekLow[nS].toFixed(5)} ${sekClose[nS].toFixed(5)}`);
svg.append('text').attr('x',4).attr('y',431).attr('font-size',5.6).attr('fill','#111')
  .text(`${oscName} ${lfxOscRed[lfxOscRed.length-1][1].toFixed(5)}`);
svg.append('text').attr('x',3).attr('y',842).attr('font-size',5.6).attr('fill','#111')
  .text(`${oscName} ${sekOscRed[sekOscRed.length-1][1].toFixed(6)}`);
tri(x(428),74.5,'#9a9a9a'); tri(x(428),493.5,'#9a9a9a');

// green zones
svg.append('g').selectAll('rect').data(boxStartWeeks).join('rect')
  .attr('x',(d)=>x(d)).attr('width',(d,i)=>x(boxEndWeeks[i])-x(d))
  .attr('y',(d,i)=>yTop(boxTopLfx[i])).attr('height',(d,i)=>yBot(boxBottomSek[i])-yTop(boxTopLfx[i]))
  .attr('fill','rgb(118,226,118)').attr('fill-opacity',0.38);

// red vertical lines
svg.append('g').selectAll('line').data(redLineWeeks).join('line')
  .attr('x1',d=>x(d)).attr('x2',d=>x(d))
  .attr('y1',(d,i)=>yTop(redLineTopLfx[i])).attr('y2',(d,i)=>yBot(redLineBottomSek[i]))
  .attr('stroke','#c8201c').attr('stroke-width',2);
</script></body></html>
